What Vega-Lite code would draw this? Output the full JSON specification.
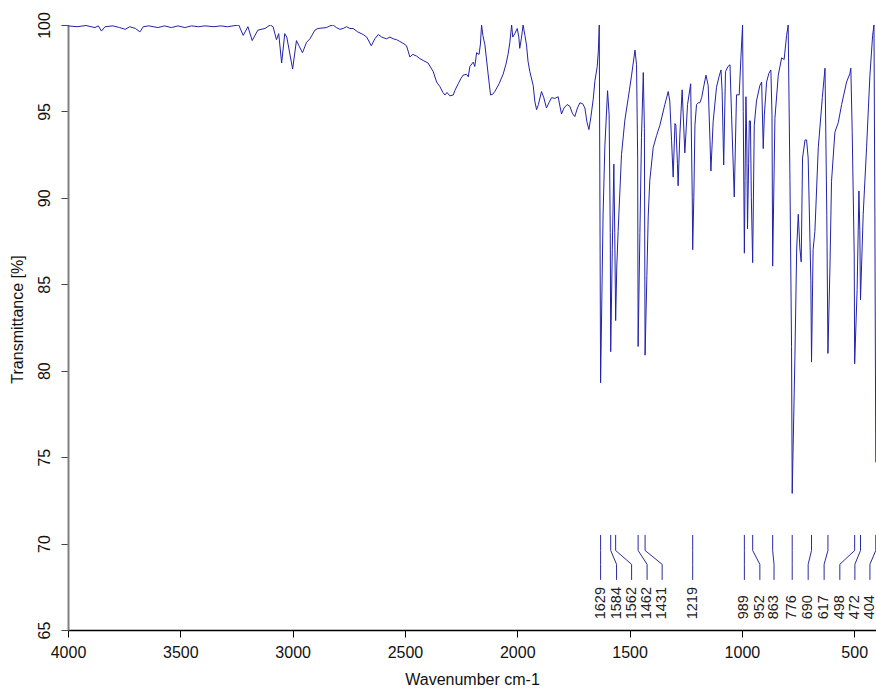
{
  "$schema": "https://vega.github.io/schema/vega-lite/v6.json",
  "autosize": {"type": "none"},
  "padding": {"left": 68, "top": 25, "right": 0, "bottom": 62},
  "width": 808,
  "height": 605,
  "background": "white",
  "config": {
    "view": {"stroke": null},
    "font": "Liberation Sans"
  },
  "datasets": {
    "spec": [
      {"wn":4000,"T":99.95},{"wn":3960,"T":99.9},{"wn":3920,"T":99.97},{"wn":3880,"T":99.85},{"wn":3865,"T":99.95},{"wn":3851,"T":99.65},{"wn":3835,"T":99.9},{"wn":3800,"T":99.95},{"wn":3770,"T":99.85},{"wn":3745,"T":99.75},{"wn":3725,"T":99.9},{"wn":3700,"T":99.8},{"wn":3680,"T":99.6},{"wn":3665,"T":99.9},{"wn":3640,"T":99.95},{"wn":3600,"T":99.85},{"wn":3570,"T":99.95},{"wn":3540,"T":99.85},{"wn":3510,"T":99.95},{"wn":3480,"T":99.85},{"wn":3450,"T":99.95},{"wn":3420,"T":99.9},{"wn":3390,"T":99.95},{"wn":3350,"T":99.9},{"wn":3320,"T":99.95},{"wn":3290,"T":99.9},{"wn":3240,"T":100},{"wn":3220,"T":99.4},{"wn":3199,"T":99.9},{"wn":3180,"T":99.1},{"wn":3155,"T":99.7},{"wn":3123,"T":99.8},{"wn":3100,"T":100},{"wn":3087,"T":99.9},{"wn":3072,"T":99.15},{"wn":3062,"T":99.5},{"wn":3049,"T":97.8},{"wn":3035,"T":99.5},{"wn":3026,"T":99.3},{"wn":3000,"T":97.45},{"wn":2983,"T":99.1},{"wn":2972,"T":98.8},{"wn":2956,"T":98.4},{"wn":2938,"T":99.0},{"wn":2923,"T":99.2},{"wn":2901,"T":99.7},{"wn":2887,"T":99.8},{"wn":2849,"T":99.85},{"wn":2834,"T":99.95},{"wn":2820,"T":100},{"wn":2805,"T":99.85},{"wn":2790,"T":99.75},{"wn":2775,"T":99.8},{"wn":2760,"T":99.9},{"wn":2745,"T":99.8},{"wn":2731,"T":99.8},{"wn":2710,"T":99.6},{"wn":2686,"T":99.45},{"wn":2670,"T":99.3},{"wn":2650,"T":98.8},{"wn":2634,"T":99.2},{"wn":2619,"T":99.45},{"wn":2603,"T":99.3},{"wn":2582,"T":99.2},{"wn":2567,"T":99.3},{"wn":2552,"T":99.2},{"wn":2537,"T":99.15},{"wn":2523,"T":99.05},{"wn":2509,"T":98.95},{"wn":2493,"T":98.8},{"wn":2478,"T":98.15},{"wn":2465,"T":98.3},{"wn":2448,"T":98.2},{"wn":2433,"T":98.05},{"wn":2419,"T":97.95},{"wn":2397,"T":97.8},{"wn":2374,"T":97.3},{"wn":2359,"T":96.7},{"wn":2345,"T":96.45},{"wn":2331,"T":96.1},{"wn":2322,"T":95.95},{"wn":2313,"T":96.1},{"wn":2300,"T":95.9},{"wn":2285,"T":95.95},{"wn":2278,"T":96.2},{"wn":2263,"T":96.6},{"wn":2251,"T":96.9},{"wn":2241,"T":97.1},{"wn":2226,"T":97.15},{"wn":2218,"T":97.0},{"wn":2211,"T":97.6},{"wn":2196,"T":97.85},{"wn":2189,"T":97.6},{"wn":2181,"T":98.4},{"wn":2170,"T":98.3},{"wn":2164,"T":98.9},{"wn":2159,"T":100},{"wn":2153,"T":99.4},{"wn":2144,"T":98.85},{"wn":2130,"T":97.2},{"wn":2119,"T":95.95},{"wn":2109,"T":96.0},{"wn":2100,"T":96.15},{"wn":2081,"T":96.6},{"wn":2063,"T":97.15},{"wn":2051,"T":97.7},{"wn":2041,"T":98.3},{"wn":2033,"T":99.0},{"wn":2025,"T":100},{"wn":2020,"T":99.3},{"wn":2011,"T":99.5},{"wn":2000,"T":99.8},{"wn":1993,"T":99.3},{"wn":1989,"T":98.65},{"wn":1982,"T":99.2},{"wn":1974,"T":100},{"wn":1966,"T":99.4},{"wn":1959,"T":98.85},{"wn":1952,"T":97.9},{"wn":1944,"T":97.3},{"wn":1929,"T":96.5},{"wn":1922,"T":95.6},{"wn":1914,"T":95.1},{"wn":1906,"T":95.4},{"wn":1892,"T":96.15},{"wn":1882,"T":95.8},{"wn":1870,"T":95.2},{"wn":1859,"T":95.5},{"wn":1847,"T":95.8},{"wn":1833,"T":95.75},{"wn":1818,"T":95.85},{"wn":1810,"T":95.3},{"wn":1803,"T":94.85},{"wn":1792,"T":95.2},{"wn":1778,"T":95.4},{"wn":1766,"T":95.3},{"wn":1755,"T":94.9},{"wn":1744,"T":94.7},{"wn":1732,"T":95.2},{"wn":1721,"T":95.5},{"wn":1709,"T":95.45},{"wn":1699,"T":95.2},{"wn":1690,"T":94.4},{"wn":1681,"T":93.95},{"wn":1672,"T":94.7},{"wn":1662,"T":95.7},{"wn":1654,"T":96.8},{"wn":1644,"T":97.6},{"wn":1639,"T":98.5},{"wn":1635,"T":100},{"wn":1629,"T":79.3},{"wn":1618,"T":89.0},{"wn":1610,"T":93.0},{"wn":1598,"T":96.2},{"wn":1591,"T":94.8},{"wn":1586,"T":88},{"wn":1584,"T":81.1},{"wn":1577,"T":87},{"wn":1570,"T":91.95},{"wn":1566,"T":88},{"wn":1562,"T":82.9},{"wn":1557,"T":86},{"wn":1551,"T":88.05},{"wn":1536,"T":92.5},{"wn":1521,"T":94.5},{"wn":1506,"T":95.77},{"wn":1491,"T":97.1},{"wn":1476,"T":98.55},{"wn":1469,"T":97.7},{"wn":1464,"T":92.3},{"wn":1462,"T":81.4},{"wn":1454,"T":88},{"wn":1447,"T":93.5},{"wn":1439,"T":97.25},{"wn":1434,"T":94},{"wn":1431,"T":80.9},{"wn":1423,"T":85.5},{"wn":1417,"T":88.95},{"wn":1410,"T":91},{"wn":1395,"T":92.9},{"wn":1380,"T":93.6},{"wn":1365,"T":94.2},{"wn":1343,"T":95.4},{"wn":1328,"T":96.15},{"wn":1321,"T":95.6},{"wn":1313,"T":93.3},{"wn":1306,"T":91.2},{"wn":1298,"T":94.3},{"wn":1294,"T":94.2},{"wn":1287,"T":92},{"wn":1284,"T":90.7},{"wn":1276,"T":93.7},{"wn":1266,"T":96.25},{"wn":1254,"T":92.6},{"wn":1242,"T":95.4},{"wn":1228,"T":96.6},{"wn":1221,"T":90.0},{"wn":1219,"T":87.0},{"wn":1214,"T":90},{"wn":1209,"T":94.2},{"wn":1202,"T":95.4},{"wn":1194,"T":95.5},{"wn":1187,"T":95.5},{"wn":1179,"T":95.8},{"wn":1169,"T":96.5},{"wn":1160,"T":97.1},{"wn":1150,"T":96.5},{"wn":1142,"T":93.3},{"wn":1138,"T":91.55},{"wn":1128,"T":94.4},{"wn":1113,"T":96.4},{"wn":1102,"T":97.0},{"wn":1093,"T":97.4},{"wn":1088,"T":96.15},{"wn":1081,"T":91.9},{"wn":1073,"T":97.3},{"wn":1062,"T":97.6},{"wn":1053,"T":97.7},{"wn":1046,"T":94.8},{"wn":1034,"T":90.05},{"wn":1024,"T":95.96},{"wn":1012,"T":95.96},{"wn":1004,"T":98.2},{"wn":997,"T":100},{"wn":994,"T":95},{"wn":989,"T":86.8},{"wn":986,"T":91},{"wn":982,"T":95.85},{"wn":978,"T":93},{"wn":975,"T":88.2},{"wn":970,"T":92},{"wn":967,"T":94.45},{"wn":962,"T":94.45},{"wn":958,"T":90},{"wn":952,"T":86.25},{"wn":945,"T":94.2},{"wn":935,"T":95.6},{"wn":920,"T":96.5},{"wn":912,"T":96.7},{"wn":905,"T":92.85},{"wn":900,"T":94.8},{"wn":890,"T":96.7},{"wn":880,"T":97.2},{"wn":871,"T":97.4},{"wn":866,"T":94.8},{"wn":863,"T":86.05},{"wn":853,"T":94.6},{"wn":838,"T":97.1},{"wn":823,"T":98.1},{"wn":812,"T":98.0},{"wn":801,"T":99.4},{"wn":794,"T":100},{"wn":786,"T":91.0},{"wn":779,"T":81.4},{"wn":776,"T":72.9},{"wn":764,"T":80.8},{"wn":756,"T":87.1},{"wn":749,"T":89.05},{"wn":742,"T":87.1},{"wn":736,"T":86.3},{"wn":730,"T":92.3},{"wn":719,"T":93.35},{"wn":712,"T":93.35},{"wn":705,"T":92.3},{"wn":693,"T":85.2},{"wn":690,"T":80.5},{"wn":683,"T":87},{"wn":675,"T":88.06},{"wn":660,"T":92.9},{"wn":642,"T":95.8},{"wn":630,"T":97.5},{"wn":622,"T":89.0},{"wn":617,"T":81.0},{"wn":608,"T":86},{"wn":601,"T":90.95},{"wn":586,"T":93.8},{"wn":571,"T":94.35},{"wn":556,"T":95.4},{"wn":534,"T":96.7},{"wn":519,"T":97.2},{"wn":515,"T":97.5},{"wn":509,"T":93.85},{"wn":500,"T":86.7},{"wn":498,"T":80.4},{"wn":487,"T":84.7},{"wn":479,"T":90.4},{"wn":475,"T":88.1},{"wn":472,"T":84.1},{"wn":460,"T":89.05},{"wn":445,"T":92.9},{"wn":430,"T":97.1},{"wn":418,"T":99.4},{"wn":412,"T":100},{"wn":408,"T":89.0},{"wn":404,"T":74.7}
    ],
    "lead": [
      {"p":"1629","o":1,"wn":1629,"T":70.5},{"p":"1629","o":2,"wn":1629,"T":69.6},{"p":"1629","o":3,"wn":1629,"T":68.8},{"p":"1629","o":4,"wn":1629,"T":67.9},
      {"p":"1584","o":1,"wn":1584,"T":70.5},{"p":"1584","o":2,"wn":1584,"T":69.6},{"p":"1584","o":3,"wn":1558,"T":68.8},{"p":"1584","o":4,"wn":1558,"T":67.9},
      {"p":"1562","o":1,"wn":1562,"T":70.5},{"p":"1562","o":2,"wn":1562,"T":69.6},{"p":"1562","o":3,"wn":1491,"T":68.8},{"p":"1562","o":4,"wn":1491,"T":67.9},
      {"p":"1462","o":1,"wn":1462,"T":70.5},{"p":"1462","o":2,"wn":1462,"T":69.6},{"p":"1462","o":3,"wn":1422,"T":68.8},{"p":"1462","o":4,"wn":1422,"T":67.9},
      {"p":"1431","o":1,"wn":1431,"T":70.5},{"p":"1431","o":2,"wn":1431,"T":69.6},{"p":"1431","o":3,"wn":1355,"T":68.8},{"p":"1431","o":4,"wn":1355,"T":67.9},
      {"p":"1219","o":1,"wn":1219,"T":70.5},{"p":"1219","o":2,"wn":1219,"T":69.6},{"p":"1219","o":3,"wn":1219,"T":68.8},{"p":"1219","o":4,"wn":1219,"T":67.9},
      {"p":"989","o":1,"wn":989,"T":70.5},{"p":"989","o":2,"wn":989,"T":69.6},{"p":"989","o":3,"wn":989,"T":68.8},{"p":"989","o":4,"wn":989,"T":67.9},
      {"p":"952","o":1,"wn":952,"T":70.5},{"p":"952","o":2,"wn":952,"T":69.6},{"p":"952","o":3,"wn":920,"T":68.8},{"p":"952","o":4,"wn":920,"T":67.9},
      {"p":"863","o":1,"wn":863,"T":70.5},{"p":"863","o":2,"wn":863,"T":69.6},{"p":"863","o":3,"wn":857,"T":68.8},{"p":"863","o":4,"wn":857,"T":67.9},
      {"p":"776","o":1,"wn":776,"T":70.5},{"p":"776","o":2,"wn":776,"T":69.6},{"p":"776","o":3,"wn":776,"T":68.8},{"p":"776","o":4,"wn":776,"T":67.9},
      {"p":"690","o":1,"wn":690,"T":70.5},{"p":"690","o":2,"wn":690,"T":69.6},{"p":"690","o":3,"wn":705,"T":68.8},{"p":"690","o":4,"wn":705,"T":67.9},
      {"p":"617","o":1,"wn":617,"T":70.5},{"p":"617","o":2,"wn":617,"T":69.6},{"p":"617","o":3,"wn":634,"T":68.8},{"p":"617","o":4,"wn":634,"T":67.9},
      {"p":"498","o":1,"wn":498,"T":70.5},{"p":"498","o":2,"wn":498,"T":69.6},{"p":"498","o":3,"wn":564,"T":68.8},{"p":"498","o":4,"wn":564,"T":67.9},
      {"p":"472","o":1,"wn":472,"T":70.5},{"p":"472","o":2,"wn":472,"T":69.6},{"p":"472","o":3,"wn":497,"T":68.8},{"p":"472","o":4,"wn":497,"T":67.9},
      {"p":"404","o":1,"wn":404,"T":70.5},{"p":"404","o":2,"wn":404,"T":69.6},{"p":"404","o":3,"wn":430,"T":68.8},{"p":"404","o":4,"wn":430,"T":67.9}
    ],
    "labs": [
      {"label":"1629","wn":1629,"T":65.62},{"label":"1584","wn":1558,"T":65.62},{"label":"1562","wn":1491,"T":65.62},{"label":"1462","wn":1422,"T":65.62},{"label":"1431","wn":1355,"T":65.62},{"label":"1219","wn":1219,"T":65.62},{"label":"989","wn":989,"T":65.62},{"label":"952","wn":920,"T":65.62},{"label":"863","wn":857,"T":65.62},{"label":"776","wn":776,"T":65.62},{"label":"690","wn":705,"T":65.62},{"label":"617","wn":634,"T":65.62},{"label":"498","wn":564,"T":65.62},{"label":"472","wn":497,"T":65.62},{"label":"404","wn":430,"T":65.62}
    ]
  },
  "layer": [
    {
      "data": {"name": "spec"},
      "mark": {"type": "line", "color": "#2222aa", "strokeWidth": 1, "clip": true},
      "encoding": {
        "x": {
          "field": "wn", "type": "quantitative",
          "scale": {"domain": [4000, 403], "nice": false, "zero": false},
          "axis": {
            "title": "Wavenumber cm-1",
            "values": [4000, 3500, 3000, 2500, 2000, 1500, 1000, 500],
            "format": "d",
            "grid": false,
            "tickSize": 7,
            "tickColor": "#000",
            "tickWidth": 1,
            "domainColor": "#000",
            "domainWidth": 1.5,
            "labelFlush": false,
            "labelOverlap": false,
            "labelFont": "Liberation Sans",
            "labelFontSize": 16,
            "labelColor": "#111",
            "labelPadding": 7,
            "titleFont": "Liberation Sans",
            "titleFontSize": 16,
            "titleFontWeight": "normal",
            "titleColor": "#111",
            "titlePadding": 11
          }
        },
        "y": {
          "field": "T", "type": "quantitative",
          "scale": {"domain": [65, 100], "nice": false, "zero": false},
          "axis": {
            "title": "Transmittance [%]",
            "values": [65, 70, 75, 80, 85, 90, 95, 100],
            "grid": false,
            "tickSize": 7,
            "tickColor": "#444",
            "domainColor": "#808080",
            "domainWidth": 2,
            "labelAngle": 270,
            "labelAlign": "center",
            "labelBaseline": "bottom",
            "labelFlush": false,
            "labelOverlap": false,
            "labelFont": "Liberation Sans",
            "labelFontSize": 16,
            "labelColor": "#111",
            "labelPadding": 9,
            "titleFont": "Liberation Sans",
            "titleFontSize": 16,
            "titleFontWeight": "normal",
            "titleColor": "#111",
            "titlePadding": 11,
            "titleY": 294
          }
        }
      }
    },
    {
      "mark": {"type": "rule", "color": "#000", "strokeWidth": 1.5},
      "encoding": {"y": {"datum": 100}}
    },
    {
      "data": {"name": "lead"},
      "mark": {"type": "line", "color": "#2a2aa0", "strokeWidth": 1},
      "encoding": {
        "x": {"field": "wn", "type": "quantitative"},
        "y": {"field": "T", "type": "quantitative"},
        "detail": {"field": "p"},
        "order": {"field": "o"}
      }
    },
    {
      "data": {"name": "labs"},
      "mark": {"type": "text", "angle": 270, "align": "left", "baseline": "middle", "font": "Liberation Sans", "fontSize": 14.5, "color": "#222"},
      "encoding": {
        "x": {"field": "wn", "type": "quantitative"},
        "y": {"field": "T", "type": "quantitative"},
        "text": {"field": "label"}
      }
    }
  ]
}
